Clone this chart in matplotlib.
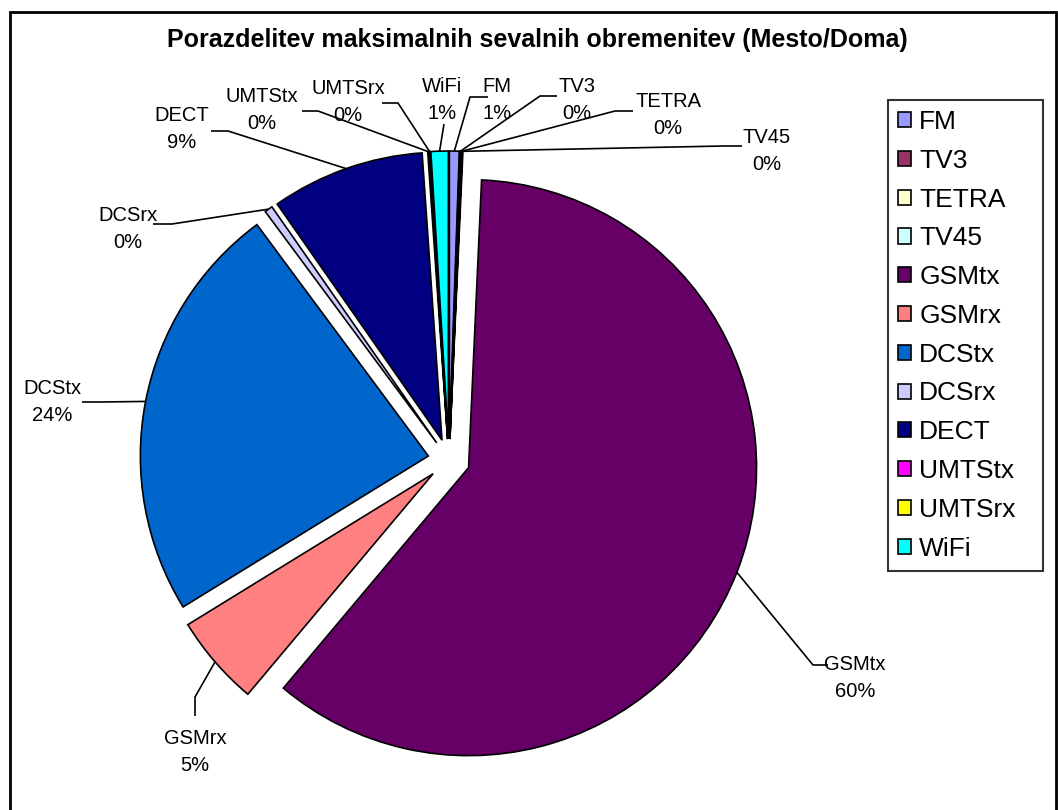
import matplotlib
matplotlib.use("Agg")
import math
import matplotlib.pyplot as plt
from matplotlib.patches import Rectangle

plt.rcParams["font.family"] = ["Liberation Sans", "DejaVu Sans"]

# data (shares in %)
categories = ["FM", "TV3", "TETRA", "TV45", "GSMtx", "GSMrx",
              "DCStx", "DCSrx", "DECT", "UMTStx", "UMTSrx", "WiFi"]
shares = [0.55, 0.08, 0.05, 0.04, 60.4, 5.1, 23.63, 0.45, 8.6, 0.07, 0.06, 0.97]
colors = ["#9999FF", "#993366", "#FFFFCC", "#CCFFFF", "#660066", "#FF8080",
          "#0066CC", "#CCCCFF", "#000080", "#FF00FF", "#FFFF00", "#00FFFF"]
title = "Porazdelitev maksimalnih sevalnih obremenitev (Mesto/Doma)"

W, H = 1058, 810

# label layout in pixel coords (y down): text centre, landing start, elbow
label_layout = {
    "FM":     ((497, 100), (488, 97), (470, 97)),
    "TV3":    ((577, 100), (557, 96), (540, 96)),
    "TETRA":  ((668, 115), (633, 111), (615, 111)),
    "TV45":   ((767, 151), (742, 146), (723, 146)),
    "WiFi":   ((442, 100), (444, 124), (444, 124)),
    "UMTSrx": ((348, 102), (382, 103), (398, 103)),
    "UMTStx": ((262, 110), (302, 111), (318, 111)),
    "DECT":   ((182, 129), (211, 131), (228, 131)),
    "DCSrx":  ((128, 229), (153, 224), (172, 224)),
    "DCStx":  ((52, 402), (82, 402), (100, 402)),
    "GSMrx":  ((195, 752), (195, 716), (195, 697)),
    "GSMtx":  ((855, 678), (828, 665), (813, 665)),
}


def px(x, y):
    return x, H - y


fig = plt.figure(figsize=(W / 100, H / 100), dpi=100)
ax = fig.add_axes([0, 0, 1, 1])

wedges, _ = ax.pie(
    shares,
    colors=colors,
    startangle=90,
    counterclock=False,
    radius=288,
    center=px(449, 460),
    explode=[21] * len(shares),
    wedgeprops=dict(edgecolor="black", linewidth=1.2),
)
ax.set_xlim(0, W)
ax.set_ylim(0, H)
ax.set_aspect("equal")
ax.axis("off")

total = sum(shares)
for w, name, val in zip(wedges, categories, shares):
    mid = math.radians((w.theta1 + w.theta2) / 2)
    ax_x = w.center[0] + w.r * math.cos(mid)
    ax_y = w.center[1] + w.r * math.sin(mid)
    (tx, ty), (l0x, l0y), (l1x, l1y) = label_layout[name]
    xs = [px(l0x, l0y)[0], px(l1x, l1y)[0], ax_x]
    ys = [px(l0x, l0y)[1], px(l1x, l1y)[1], ax_y]
    ax.plot(xs, ys, color="black", lw=1.2, solid_capstyle="butt")
    ax.text(*px(tx, ty), f"{name}\n{val / total * 100:.0f}%",
            ha="center", va="center", multialignment="center",
            fontsize=14.5, linespacing=1.58)

fig.text(0.508, 1 - 40 / H, title, ha="center", va="center",
         fontsize=18, fontweight="bold")

frame = Rectangle(px(10, 815), 1046, 803, fill=False, edgecolor="black",
                  lw=2, clip_on=False)
ax.add_patch(frame)

leg = ax.legend(
    wedges, categories,
    loc="upper left",
    bbox_to_anchor=(888 / W, 1 - 565 / H, 155 / W, 465 / H),
    bbox_transform=fig.transFigure,
    mode="expand",
    frameon=True, fancybox=False, edgecolor="black",
    fontsize=19, handlelength=0.5, handleheight=0.5,
    handletextpad=0.3, labelspacing=0.56, borderpad=0.38,
    borderaxespad=0,
)
leg.get_frame().set_linewidth(1.5)

fig.savefig("out.png", dpi=100)
